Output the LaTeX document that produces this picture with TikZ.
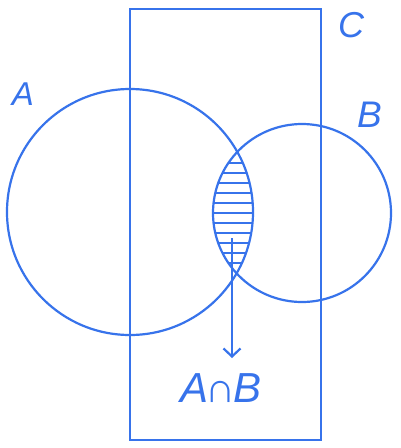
\documentclass[tikz,border=0pt]{standalone}
\usepackage{fontspec}
\setmainfont{Liberation Sans}
\usetikzlibrary{arrows.meta}
\definecolor{vblue}{RGB}{55,115,235}
\tikzset{
  outline/.style={draw=vblue, line width=2.2pt},
  hatch/.style={draw=vblue, line width=1.8pt},
  setlabel/.style={text=vblue, font=\itshape, inner sep=0pt},
}
\begin{document}
\begin{tikzpicture}[x=1pt,y=-1pt]
\useasboundingbox (0,0) rectangle (400,448);
\fill[white] (0,0) rectangle (400,448);
% universal rectangle C
\node[outline, minimum width=191pt, minimum height=431pt, inner sep=0pt, anchor=north west] (rectC) at (129,8) {};
% circles
\node[outline, circle, minimum size=246pt, inner sep=0pt] (circA) at (130,212) {};
\node[outline, circle, minimum size=178pt, inner sep=0pt] (circB) at (302,213) {};
% hatching of intersection
\begin{scope}
  \clip (130,212) circle[radius=123];
  \clip (302,213) circle[radius=89];
  \foreach \yy in {163,173,...,263} {
    \draw[hatch] (200,\yy) -- (270,\yy);
  }
\end{scope}
% labels
\node[setlabel, font=\itshape\fontsize{33}{33}\selectfont] (labA) at (23,94) {A};
\node[setlabel, font=\itshape\fontsize{37}{37}\selectfont] (labB) at (370,115) {B};
\node[setlabel, font=\itshape\fontsize{36}{36}\selectfont] (labC) at (351,25) {C};
\node[setlabel, font=\itshape\fontsize{42}{42}\selectfont] (labAB) at (221,388) {A\kern-3pt∩\kern-3pt B};
% arrow
\coordinate (arrStart) at (232,238);
\coordinate (arrEnd) at (232,358);
\draw[outline, -{Straight Barb[length=8pt,width=17pt]}] (arrStart) -- (arrEnd);
\end{tikzpicture}
\end{document}
